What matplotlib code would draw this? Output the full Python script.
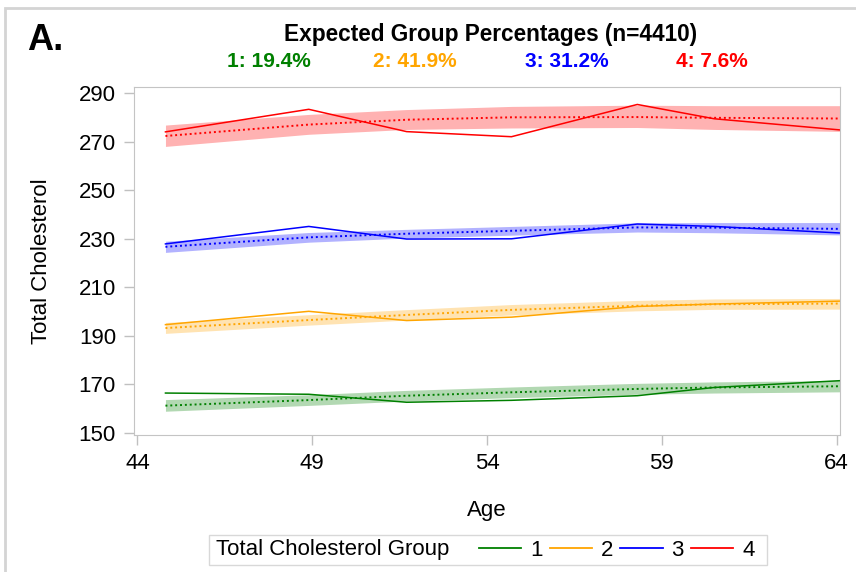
import matplotlib
matplotlib.use("Agg")
import matplotlib.pyplot as plt
from matplotlib import patches
from matplotlib.lines import Line2D

plt.rcParams['font.family'] = ['Liberation Sans', 'DejaVu Sans']

# mean age at each wave
age = [44.8, 48.9, 51.7, 54.7, 58.3, 60.5, 64.1]

groups = ['1', '2', '3', '4']
colors = ['#008000', '#FFA500', '#0000FF', '#FF0000']
pcts = ['1: 19.4%', '2: 41.9%', '3: 31.2%', '4: 7.6%']

# observed means (solid)
obs1 = [166.3, 165.8, 162.5, 163.3, 165.2, 168.6, 171.4]
obs2 = [194.5, 200.0, 196.2, 197.6, 202.0, 203.0, 204.2]
obs3 = [227.8, 235.0, 229.8, 229.9, 236.0, 235.0, 232.3]
obs4 = [274.0, 283.3, 274.1, 272.0, 285.3, 279.4, 274.8]

# estimated trajectories (dotted) and band
est1 = [161.1, 163.4, 165.2, 166.6, 168.0, 168.6, 169.1]
lo1 = [158.8, 161.2, 163.0, 164.4, 165.8, 166.3, 166.8]
hi1 = [163.6, 165.6, 167.4, 168.8, 170.3, 170.9, 171.5]

est2 = [193.1, 196.4, 198.5, 200.6, 202.3, 202.9, 203.2]
lo2 = [190.9, 194.3, 196.4, 198.5, 200.2, 200.8, 200.9]
hi2 = [195.4, 198.6, 200.7, 202.8, 204.5, 205.1, 205.3]

est3 = [226.6, 230.5, 232.0, 233.2, 234.6, 234.5, 234.0]
lo3 = [224.3, 228.5, 230.2, 231.4, 232.7, 232.4, 231.5]
hi3 = [228.9, 232.5, 233.8, 235.0, 236.5, 236.6, 236.6]

est4 = [272.3, 277.0, 279.0, 280.0, 280.1, 279.8, 279.5]
lo4 = [268.0, 273.0, 275.0, 275.6, 275.8, 275.0, 274.2]
hi4 = [276.8, 281.2, 283.2, 284.5, 285.0, 284.8, 284.8]

obs = [obs1, obs2, obs3, obs4]
est = [est1, est2, est3, est4]
lo = [lo1, lo2, lo3, lo4]
hi = [hi1, hi2, hi3, hi4]

W, H = 856, 572
fig = plt.figure(figsize=(W / 100, H / 100), dpi=100)
ax = fig.add_axes([134 / W, 1 - 435 / H, 706 / W, 348 / H])

for i in range(4):
    ax.fill_between(age, lo[i], hi[i], color=colors[i], alpha=0.3, lw=0)
    ax.plot(age, est[i], color=colors[i], lw=1.4, ls=(0, (1, 1.5)))
    ax.plot(age, obs[i], color=colors[i], lw=1.1)

ax.set_xlim(43.9, 64.1)
ax.set_ylim(149.0, 292.5)
ax.set_xticks([44, 49, 54, 59, 64])
ax.set_yticks(range(150, 291, 20))
ax.tick_params(labelsize=16, colors='#c0c0c0', labelcolor='black', length=7, width=1, pad=6)
for s in ax.spines.values():
    s.set_color('#c4c4c4')
ax.set_xlabel('Age', fontsize=16, labelpad=19)
ax.set_ylabel('Total Cholesterol', fontsize=16, labelpad=19)

fig.text(27 / W, 1 - 41 / H, 'A.', fontsize=26, fontweight='bold', va='center', ha='left')
fig.text(491 / W, 1 - 35 / H, 'Expected Group Percentages (n=4410)', fontsize=16.3,
         fontweight='bold', ha='center', va='center')
xs = [269, 415, 567, 712]
for i in range(4):
    fig.text(xs[i] / W, 1 - 62 / H, pcts[i], fontsize=15, fontweight='bold',
             color=colors[i], ha='center', va='center')

# legend
handles = [Line2D([], [], color=colors[i], lw=1.3) for i in range(4)]
leg = fig.legend(handles, groups, loc='center left', bbox_to_anchor=(479 / W, 1 - 550 / H),
                 ncol=4, fontsize=16, frameon=False, handlelength=1.9, handletextpad=0.4,
                 columnspacing=0.32, borderpad=0, borderaxespad=0)
fig.text(216 / W, 1 - 550 / H, 'Total Cholesterol Group', fontsize=16, ha='left', va='center')
box = patches.Rectangle((209 / W, 1 - 565 / H), 558 / W, 30 / H, transform=fig.transFigure,
                        fill=False, edgecolor='#d8d8d8', lw=1)
fig.patches.append(box)

# outer frame
frame = patches.Rectangle((5 / W, -0.1), 1.2, 1 - 8 / H + 0.1, transform=fig.transFigure,
                          fill=False, edgecolor='#d4d4d4', lw=2)
fig.patches.append(frame)

fig.savefig('out.png', dpi=100)
